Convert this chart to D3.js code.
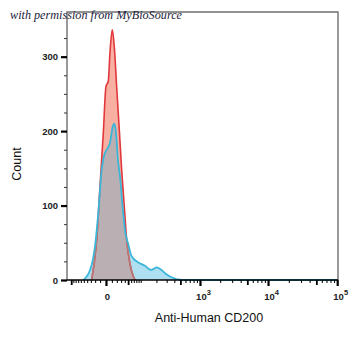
<!DOCTYPE html>
<html>
<head>
<meta charset="utf-8">
<script src="https://cdn.jsdelivr.net/npm/d3@7"></script>
<style>
  html, body { margin: 0; padding: 0; background: #fff; }
  svg { display: block; }
</style>
</head>
<body>
<svg id="chart" width="350" height="337"></svg>
<script>
// Isotype control histogram (red) and anti-CD200 stained histogram (blue)
const isotypeFluor = [-28, -16.7, -10.2, -4.3, 0, 3.65, 6.5, 10.7, 14.6, 19.6, 25.6, 31.5, 38.5, 45.5, 56, 68, 75];
const isotypeCount = [0, 54, 125, 197, 260, 267, 305, 336, 314, 260, 202, 148, 99, 54, 22, 5, 0];

const cd200Fluor = [-52, -32.3, -20.3, -13.4, -7.1, -1.5, 1.07, 6.5, 11.5, 14.6, 17.5, 23.2, 27.3, 34.1, 40.5, 51.2, 59.6, 70.6, 87.2, 122, 159, 205, 240, 292, 366, 529, 2000, 100000];
const cd200Count = [0, 13, 45, 90, 148, 171, 175, 184, 206, 210, 202, 157, 139, 98, 67, 47, 34, 28, 24, 19, 13.5, 17, 14, 8, 3.4, 0, 0, 0];

// Axis ticks
const yMajorTicks = [0, 100, 200, 300];
const yMinorTicks = [25, 50, 75, 125, 150, 175, 225, 250, 275, 325];
const xMajorTicks = [0, 1000, 10000, 100000];
const xTickLabels = ["0", "10|3", "10|4", "10|5"];
const xMediumTicks = [-100, 50, 500, 5000, 50000];
const xMinorTicks = [-90, -80, -70, -60, -50, -40, -30, -20, -10, 10, 20, 30, 40, 60, 70, 80, 90,
  100, 200, 300, 400, 600, 700, 800, 900,
  2000, 3000, 4000, 6000, 7000, 8000, 9000,
  20000, 30000, 40000, 60000, 70000, 80000, 90000];

const svg = d3.select("#chart");
const plotLeft = 67, plotRight = 338, plotTop = 12, plotBottom = 280;

const x = d3.scaleSymlog().constant(46).domain([-122, 100000]).range([plotLeft, 337.2]);
const y = d3.scaleLinear().domain([0, 360]).range([plotBottom, plotTop]);

const isotype = isotypeFluor.map((v, i) => ({ v, c: isotypeCount[i] }));
const cd200 = cd200Fluor.map((v, i) => ({ v, c: cd200Count[i] }));

const area = d3.area().x(d => x(d.v)).y0(y(0)).y1(d => y(d.c)).curve(d3.curveMonotoneX);
const line = d3.line().x(d => x(d.v)).y(d => y(d.c)).curve(d3.curveMonotoneX);

const defs = svg.append("defs");
defs.append("clipPath").attr("id", "cd200Clip")
  .append("path").attr("d", area(cd200));
defs.append("clipPath").attr("id", "plotClip")
  .append("rect").attr("x", plotLeft).attr("y", plotTop)
  .attr("width", plotRight - plotLeft).attr("height", plotBottom - plotTop + 1);

const plot = svg.append("g").attr("clip-path", "url(#plotClip)");

// fills
plot.append("path").attr("d", area(cd200)).attr("fill", "#afe0f2");
plot.append("path").attr("d", area(isotype)).attr("fill", "#f7b0a2");
plot.append("path").attr("d", area(isotype)).attr("fill", "#bab0b3").attr("clip-path", "url(#cd200Clip)");

// outlines
plot.append("path").attr("d", line(isotype)).attr("fill", "none")
  .attr("stroke", "#e2383b").attr("stroke-width", 1.6).attr("stroke-linejoin", "round");
plot.append("g").attr("clip-path", "url(#cd200Clip)")
  .append("path").attr("d", line(isotype)).attr("fill", "none")
  .attr("stroke", "#b57a78").attr("stroke-width", 1.6);
plot.append("path").attr("d", line(cd200)).attr("fill", "none")
  .attr("stroke", "#3ab6d9").attr("stroke-width", 1.8).attr("stroke-linejoin", "round");

// frame
svg.append("path")
  .attr("d", `M${plotLeft},${plotBottom}V${plotTop}H${plotRight}V${plotBottom}`)
  .attr("fill", "none").attr("stroke", "#6f6f6f").attr("stroke-width", 1.4);

// y axis
const yMinor = svg.append("g").attr("transform", `translate(${plotLeft},0)`)
  .call(d3.axisLeft(y).tickValues(yMinorTicks).tickSize(3).tickFormat(""));
yMinor.select(".domain").remove();
yMinor.selectAll("line").attr("stroke", "#333").attr("stroke-width", 1);

const yMajor = svg.append("g").attr("transform", `translate(${plotLeft},0)`)
  .call(d3.axisLeft(y).tickValues(yMajorTicks).tickSize(6).tickPadding(3).tickFormat(d3.format("d")));
yMajor.select(".domain").remove();
yMajor.selectAll("line").attr("stroke", "#000").attr("stroke-width", 2.2);
yMajor.selectAll("text").attr("font-family", "Liberation Sans, Arial, sans-serif")
  .attr("font-size", 9.5).attr("font-weight", "bold").attr("fill", "#222");

// x axis
const xMinor = svg.append("g").attr("transform", `translate(0,${plotBottom})`)
  .call(d3.axisBottom(x).tickValues(xMinorTicks).tickSize(3).tickFormat(""));
xMinor.select(".domain").remove();
xMinor.selectAll("line").attr("stroke", "#111").attr("stroke-width", 1.1);

const xMedium = svg.append("g").attr("transform", `translate(0,${plotBottom})`)
  .call(d3.axisBottom(x).tickValues(xMediumTicks).tickSize(5).tickFormat(""));
xMedium.select(".domain").remove();
xMedium.selectAll("line").attr("stroke", "#000").attr("stroke-width", 1.8);

const xMajor = svg.append("g").attr("transform", `translate(0,${plotBottom})`)
  .call(d3.axisBottom(x).tickValues(xMajorTicks).tickSize(6).tickFormat(""));
xMajor.select(".domain").remove();
xMajor.selectAll("line").attr("stroke", "#000").attr("stroke-width", 2.2);
xMajor.selectAll(".tick").each(function (d, i) {
  const parts = xTickLabels[i].split("|");
  const t = d3.select(this).append("text")
    .attr("y", 20).attr("x", parts.length > 1 ? 3 : 1)
    .attr("text-anchor", "middle")
    .attr("font-family", "Liberation Sans, Arial, sans-serif")
    .attr("font-size", 9.5).attr("font-weight", "bold").attr("fill", "#222");
  t.append("tspan").text(parts[0]);
  if (parts.length > 1) {
    t.append("tspan").attr("dy", -5).attr("font-size", 7.5).text(parts[1]);
  }
});

// baseline axis line
svg.append("line").attr("x1", plotLeft).attr("x2", plotRight).attr("y1", plotBottom).attr("y2", plotBottom)
  .attr("stroke", "#000").attr("stroke-width", 1.6);

// axis titles
svg.append("text").attr("x", 209).attr("y", 322).attr("text-anchor", "middle")
  .attr("font-family", "Liberation Sans, Arial, sans-serif").attr("font-size", 12.5).attr("fill", "#111")
  .text("Anti-Human CD200");
svg.append("text").attr("transform", "translate(21,164) rotate(-90)").attr("text-anchor", "middle")
  .attr("font-family", "Liberation Sans, Arial, sans-serif").attr("font-size", 12.5).attr("fill", "#111")
  .text("Count");

// credit line
svg.append("text").attr("x", 10).attr("y", 19)
  .attr("font-family", "Liberation Serif, DejaVu Serif, serif").attr("font-style", "italic")
  .attr("font-size", 11.5).attr("fill", "#1c1c3c")
  .attr("textLength", 172).attr("lengthAdjust", "spacingAndGlyphs")
  .text("with permission from MyBioSource");
</script>
</body>
</html>
